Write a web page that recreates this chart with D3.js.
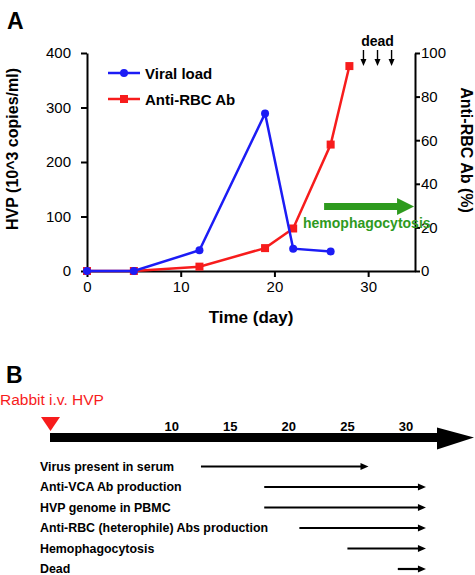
<!DOCTYPE html>
<html><head><meta charset="utf-8">
<script src="https://cdn.jsdelivr.net/npm/d3@7"></script>
<style>body{margin:0;background:#fff}svg{display:block}text{font-family:"Liberation Sans",Arial,sans-serif}</style>
</head><body><svg id="c" width="475" height="575"></svg>
<script>
// Panel A data
const viralDays = [0, 5, 12, 19, 22, 26];
const viralLoad = [0, 0, 38, 289, 41, 36];
const rbcDays = [0, 5, 12, 19, 22, 26, 28];
const rbcAb = [0, 0, 2, 10.5, 19.5, 58, 94];
const xTicks = [0, 10, 20, 30];
const yLeftTicks = [0, 100, 200, 300, 400];
const yRightTicks = [0, 20, 40, 60, 80, 100];
const deadDays = [29.5, 31, 32.5];
const hemoRange = [25.3, 34.9];
// Panel B data
const timelineTicks = [10, 15, 20, 25, 30];
const events = ["Virus present in serum", "Anti-VCA Ab production", "HVP genome in PBMC",
  "Anti-RBC (heterophile) Abs production", "Hemophagocytosis", "Dead"];
const eventStart = [12.5, 17.9, 17.9, 20.9, 25, 29.3];
const eventEnd = [26.8, 31.7, 31.7, 31.7, 31.7, 31.7];

const svg = d3.select("#c");
const BLUE = "#1c1cf5", RED = "#f71c1c", GREEN = "#2e9a1e";

// ---------- Panel A ----------
const x = d3.scaleLinear().domain([0, 35]).range([87, 415]);
const yL = d3.scaleLinear().domain([0, 400]).range([271, 53]);
const yR = d3.scaleLinear().domain([0, 100]).range([271, 53]);

svg.append("text").attr("x", 7).attr("y", 29).attr("font-size", 23).attr("font-weight", "bold").text("A");

const ax = svg.append("g").attr("transform", "translate(0,271)")
  .call(d3.axisBottom(x).tickValues(xTicks).tickSize(6).tickPadding(4).tickSizeOuter(0));
const al = svg.append("g").attr("transform", "translate(87,0)")
  .call(d3.axisLeft(yL).tickValues(yLeftTicks).tickSize(6).tickPadding(10).tickSizeOuter(0));
const ar = svg.append("g").attr("transform", "translate(415,0)")
  .call(d3.axisRight(yR).tickValues(yRightTicks).tickSize(5).tickPadding(1).tickSizeOuter(0));
[ax, al, ar].forEach(g => {
  g.selectAll("path,line").attr("stroke", "#000").attr("stroke-width", 2);
  g.selectAll("text").attr("font-size", 15).attr("font-family", "Liberation Sans, Arial").attr("fill", "#000");
});

svg.append("text").attr("x", 251).attr("y", 323).attr("text-anchor", "middle")
  .attr("font-size", 17).attr("font-weight", "bold").text("Time (day)");
svg.append("text").attr("transform", "translate(18,149) rotate(-90)").attr("text-anchor", "middle")
  .attr("font-size", 16).attr("font-weight", "bold").text("HVP (10^3 copies/ml)");
svg.append("text").attr("transform", "translate(461,150) rotate(90)").attr("text-anchor", "middle")
  .attr("font-size", 16).attr("font-weight", "bold").text("Anti-RBC Ab (%)");

const viral = viralDays.map((d, i) => [d, viralLoad[i]]);
const rbc = rbcDays.map((d, i) => [d, rbcAb[i]]);

svg.append("path").datum(rbc).attr("fill", "none").attr("stroke", RED).attr("stroke-width", 2.5)
  .attr("d", d3.line().x(d => x(d[0])).y(d => yR(d[1])));
svg.selectAll(".sq").data(rbc).join("rect").attr("fill", RED)
  .attr("x", d => x(d[0]) - 4).attr("y", d => yR(d[1]) - 4).attr("width", 8).attr("height", 8);
svg.append("path").datum(viral).attr("fill", "none").attr("stroke", BLUE).attr("stroke-width", 2.5)
  .attr("d", d3.line().x(d => x(d[0])).y(d => yL(d[1])));
svg.selectAll(".ci").data(viral).join("circle").attr("fill", BLUE)
  .attr("cx", d => x(d[0])).attr("cy", d => yL(d[1])).attr("r", 4);

// legend
const leg = [["Viral load", BLUE, "c"], ["Anti-RBC Ab", RED, "s"]];
leg.forEach((l, i) => {
  const yy = 73 + i * 26;
  svg.append("line").attr("x1", 108).attr("x2", 140).attr("y1", yy).attr("y2", yy).attr("stroke", l[1]).attr("stroke-width", 2.5);
  if (l[2] === "c") svg.append("circle").attr("cx", 124).attr("cy", yy).attr("r", 4).attr("fill", l[1]);
  else svg.append("rect").attr("x", 120).attr("y", yy - 4).attr("width", 8).attr("height", 8).attr("fill", l[1]);
  svg.append("text").attr("x", 145).attr("y", yy + 5.5).attr("font-size", 15).attr("font-weight", "bold").text(l[0]);
});

// dead arrows
svg.append("text").attr("x", x(31)).attr("y", 46).attr("text-anchor", "middle")
  .attr("font-size", 14).attr("font-weight", "bold").text("dead");
deadDays.forEach(d => {
  const xx = x(d);
  svg.append("line").attr("x1", xx).attr("x2", xx).attr("y1", 50).attr("y2", 61).attr("stroke", "#000").attr("stroke-width", 1.4);
  svg.append("path").attr("d", `M${xx - 3},${59} L${xx + 3},${59} L${xx},${66} Z`).attr("fill", "#000");
});

// hemophagocytosis arrow
const hx0 = x(hemoRange[0]), hx1 = x(hemoRange[1]);
svg.append("path").attr("fill", GREEN)
  .attr("d", `M${hx0},203 L${hx1 - 17},203 L${hx1 - 17},198 L${hx1},206.5 L${hx1 - 17},215 L${hx1 - 17},210 L${hx0},210 Z`);
svg.append("text").attr("x", 303).attr("y", 228).attr("font-size", 14).attr("font-weight", "bold")
  .attr("fill", GREEN).text("hemophagocytosis");

// ---------- Panel B ----------
const t = d3.scaleLinear().domain([0, 30]).range([54.5, 406]);
svg.append("text").attr("x", 6).attr("y", 383).attr("font-size", 23).attr("font-weight", "bold").text("B");
svg.append("text").attr("x", 0).attr("y", 405).attr("font-size", 15.5).attr("fill", RED).text("Rabbit i.v. HVP");
svg.append("path").attr("d", `M41,417 L60,417 L50.5,431 Z`).attr("fill", RED);
// main arrow
svg.append("rect").attr("x", 50).attr("y", 433).attr("width", 390).attr("height", 9).attr("fill", "#000");
svg.append("path").attr("d", "M437,427.5 L474,437.5 L437,449.5 Z").attr("fill", "#000");
svg.selectAll(".tl").data(timelineTicks).join("text").attr("x", d => t(d)).attr("y", 431)
  .attr("text-anchor", "middle").attr("font-size", 13).attr("font-weight", "bold").text(d => d);

events.forEach((e, i) => {
  const yy = 466.5 + i * 20.5;
  svg.append("text").attr("x", 40).attr("y", yy + 4.2).attr("font-size", 12.4).attr("font-weight", "bold").text(e);
  const s = t(eventStart[i]), en = t(eventEnd[i]);
  svg.append("line").attr("x1", s).attr("x2", en - 6).attr("y1", yy).attr("y2", yy).attr("stroke", "#000").attr("stroke-width", 2.2);
  svg.append("path").attr("d", `M${en - 8},${yy - 3.5} L${en},${yy} L${en - 8},${yy + 3.5} Z`).attr("fill", "#000");
});
</script></body></html>
